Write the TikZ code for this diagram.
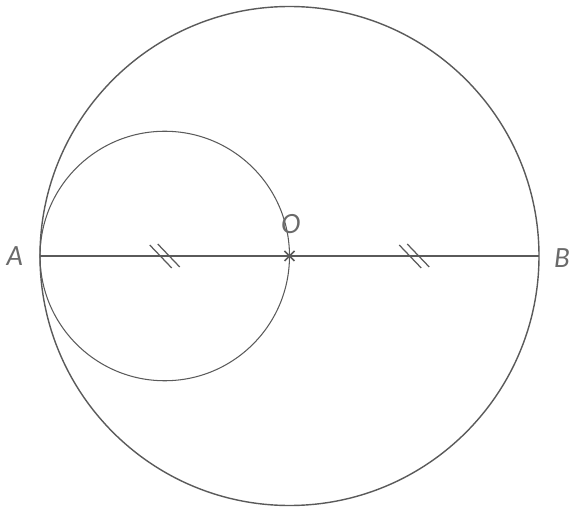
\documentclass[tikz,border=0pt]{standalone}
\usepackage{fontspec}
\setsansfont{Lato}
\usepackage{tikz}
\usetikzlibrary{positioning}

\definecolor{linegray}{HTML}{5A5A5A}
\definecolor{textgray}{HTML}{6A6A6A}

\begin{document}
\begin{tikzpicture}[x=0.02cm,y=-0.02cm,line width=0.8pt,draw=linegray,
		lbl/.style={text=textgray,font=\sffamily\itshape\fontsize{15}{15}\selectfont,inner sep=0pt},
		tick/.style={line width=0.7pt}]
		\useasboundingbox (0,0) rectangle (576,510);
		\coordinate (A) at (40,256);
		\coordinate (B) at (539,256);
		\coordinate (O) at (289.5,256);
		\coordinate (M1) at (164.75,256);
		\coordinate (M2) at (414.25,256);

		% circles
		\draw (O) circle[radius=249.5*0.02cm];
		\draw[line width=0.6pt] (M1) circle[radius=124.75*0.02cm];

		% diameter
		\draw[line width=0.9pt] (A) -- (B);

		% equal marks
		\foreach \m in {M1,M2}{
			\draw[tick] ([shift={(-15,-11)}]\m) -- ([shift={(7,12)}]\m);
			\draw[tick] ([shift={(-7,-12)}]\m) -- ([shift={(15,11)}]\m);
		}

		% centre cross
		\draw[line width=0.9pt] ([shift={(-5,-5)}]O) -- ([shift={(5,5)}]O)
			([shift={(-5,5)}]O) -- ([shift={(5,-5)}]O);

		\node[lbl] (lA) at (15,256) {A};
		\node[lbl] (lB) at (562,258) {B};
		\node[lbl] (lO) at (291,224) {O};
	\end{tikzpicture}
\end{document}
